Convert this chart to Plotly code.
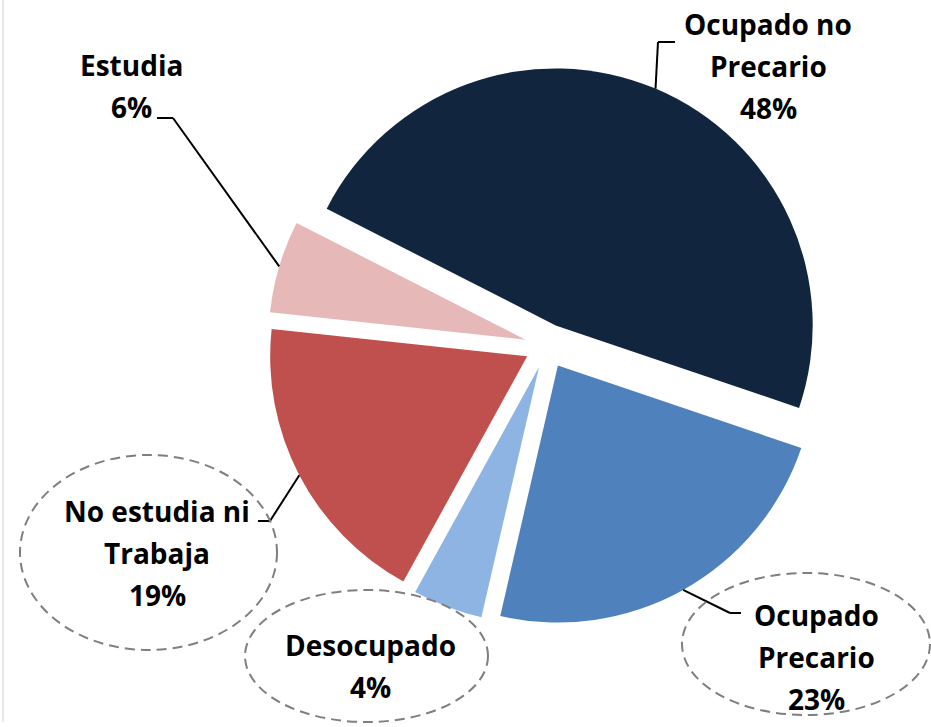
import math
import plotly.graph_objects as go

# ---------------- data ----------------
categories = ["Ocupado no Precario", "Ocupado Precario", "Desocupado",
              "No estudia ni Trabaja", "Estudia"]
values = [47.7, 23.4, 4.4, 18.7, 5.8]   # shares (labels rounded)
label_lines = [["Ocupado no", "Precario"], ["Ocupado", "Precario"], ["Desocupado"],
               ["No estudia ni", "Trabaja"], ["Estudia"]]
colors = ["#12253F", "#4F81BD", "#8DB4E2", "#C0504D", "#E6B9B8"]

# ---------------- layout constants (pixels) ----------------
W, H = 931, 727
CX, CY = 547, 346        # pie centre
R = 257                  # pie radius
PULL = 0.087             # explode fraction
ROT = 297                # start angle (deg, clockwise from 12 o'clock)
FONT = dict(family="Open Sans", size=28, color="#000000", weight="bold")
LINE_H = 42

# label block centres, leader elbows/ends, ellipses
label_pos = {0: (768, 66), 1: (816, 657), 2: (370, 666), 3: (157, 553), 4: (131, 86)}
leader_pts = {0: [(658, 42), (675, 42)],
              1: [(730, 613), (741, 613)],
              3: [(270, 521), (258, 521)],
              4: [(173, 118), (157, 118)]}
ellipses = {1: (682, 930, 573, 715), 2: (245, 488, 590, 722), 3: (20, 277, 455, 650)}


def px(x, y):
    return x / W, 1 - y / H


full = R * (1 + PULL)
fig = go.Figure(go.Pie(
    labels=categories, values=values, sort=False, direction="clockwise",
    rotation=ROT, pull=[PULL] * len(values),
    marker=dict(colors=colors, line=dict(width=0)),
    textinfo="none", hoverinfo="label+percent",
    domain=dict(x=[(CX - full) / W, (CX + full) / W],
                y=[1 - (CY + full) / H, 1 - (CY - full) / H]),
    showlegend=False,
))

shapes = []
annotations = []
total = sum(values)
cum = 0
for i, v in enumerate(values):
    a0 = ROT + 360 * cum / total
    a1 = ROT + 360 * (cum + v) / total
    cum += v
    mid = math.radians((a0 + a1) / 2)
    # slice centre after explode
    sx = CX + R * PULL * math.sin(mid)
    sy = CY - R * PULL * math.cos(mid)
    ax = sx + R * math.sin(mid)
    ay = sy - R * math.cos(mid)
    if i in leader_pts:
        pts = [(ax, ay)] + leader_pts[i]
        for (x0, y0), (x1, y1) in zip(pts[:-1], pts[1:]):
            X0, Y0 = px(x0, y0)
            X1, Y1 = px(x1, y1)
            shapes.append(dict(type="line", xref="paper", yref="paper",
                               x0=X0, y0=Y0, x1=X1, y1=Y1,
                               line=dict(color="#000000", width=2)))
    if i in ellipses:
        ex0, ex1, ey0, ey1 = ellipses[i]
        X0, Y0 = px(ex0, ey1)
        X1, Y1 = px(ex1, ey0)
        shapes.append(dict(type="circle", xref="paper", yref="paper",
                           x0=X0, y0=Y0, x1=X1, y1=Y1,
                           line=dict(color="#7F7F7F", width=2, dash="10px,6px")))
    lines = label_lines[i] + [f"{round(v / total * 100)}%"]
    bx, by = label_pos[i]
    n = len(lines)
    for k, t in enumerate(lines):
        ly = by + (k - (n - 1) / 2) * LINE_H
        X, Y = px(bx, ly)
        annotations.append(dict(text=t, x=X, y=Y, xref="paper", yref="paper",
                                xanchor="center", yanchor="middle",
                                showarrow=False, font=FONT))

# left chart-area border
X0, Y0 = px(3, 0)
X1, Y1 = px(3, 722)
shapes.append(dict(type="line", xref="paper", yref="paper", x0=X0, y0=Y0, x1=X1, y1=Y1,
                   line=dict(color="#D0D0D0", width=1)))

fig.update_layout(width=W, height=H, margin=dict(l=0, r=0, t=0, b=0),
                  paper_bgcolor="white", plot_bgcolor="white",
                  shapes=shapes, annotations=annotations)

fig.write_html("out.html", config={"displayModeBar": False},
               post_script="document.body.style.margin='0';")
